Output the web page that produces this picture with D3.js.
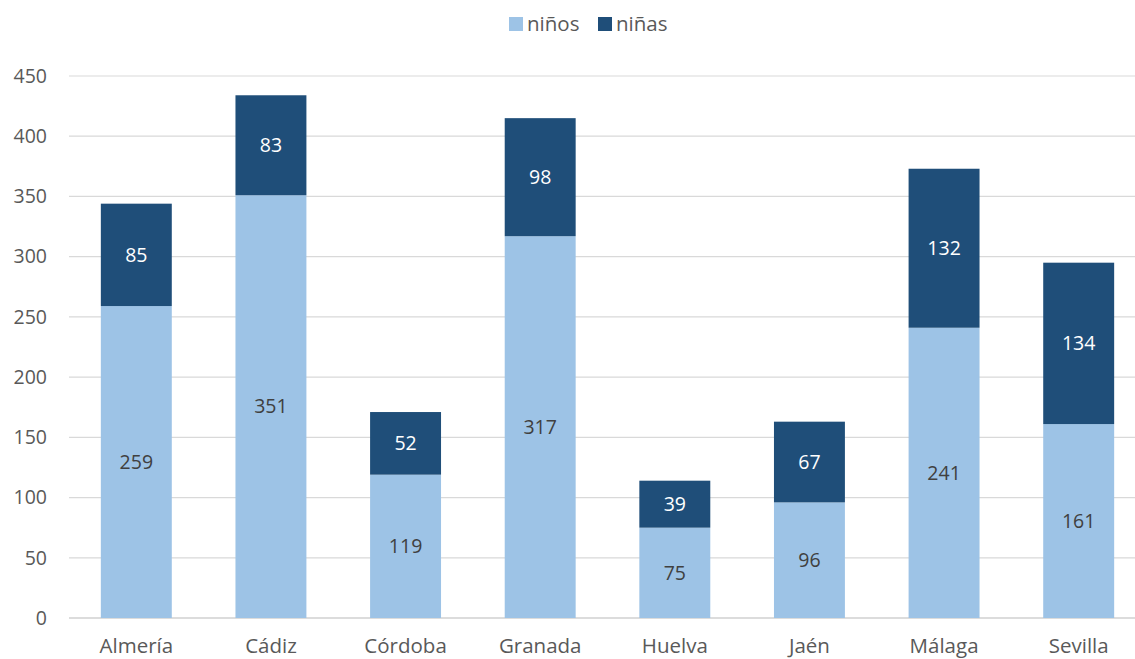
<!DOCTYPE html>
<html><head><meta charset="utf-8">
<script src="https://cdn.jsdelivr.net/npm/d3@7"></script>
<style>body{margin:0;background:#fff}svg{display:block}text{font-family:"Open Sans","Noto Sans",sans-serif}</style>
</head><body><svg id="c" width="1135" height="659"></svg>
<script>
const categories=["Almería","Cádiz","Córdoba","Granada","Huelva","Jaén","Málaga","Sevilla"];
const ninos=[259,351,119,317,75,96,241,161];
const ninas=[85,83,52,98,39,67,132,134];
const seriesNames=["niños","niñas"];
const yTicks=[0,50,100,150,200,250,300,350,400,450];
const colors=["#9DC3E6","#1F4E79"];
const labelColors=["#404040","#ffffff"];

const svg=d3.select("#c");
const x=d3.scaleBand().domain(categories).range([69,1146]).paddingInner(0.473).paddingOuter(0.2365);
const y=d3.scaleLinear().domain([0,450]).range([618,76]);

const grid=svg.append("g");
grid.selectAll("line").data(yTicks).join("line")
 .attr("x1",69).attr("x2",1135).attr("y1",d=>y(d)).attr("y2",d=>y(d))
 .attr("stroke",d=>d===0?"#d0d0d0":"#d9d9d9").attr("stroke-width",d=>d===0?1.5:1.2);

const yAxis=svg.append("g").attr("transform","translate(47,0)")
 .call(d3.axisLeft(y).tickValues(yTicks).tickSize(0).tickPadding(0));
yAxis.select(".domain").remove();
yAxis.selectAll("text").attr("font-size",19.5).attr("fill","#595959").attr("font-family","'Open Sans',sans-serif");

const xAxis=svg.append("g").attr("transform","translate(0,618)")
 .call(d3.axisBottom(x).tickSize(0).tickPadding(20));
xAxis.select(".domain").remove();
xAxis.selectAll("text").attr("font-size",20.5).attr("fill","#595959").attr("font-family","'Open Sans',sans-serif");

const data=categories.map((c,i)=>({cat:c,"niños":ninos[i],"niñas":ninas[i]}));
const stack=d3.stack().keys(seriesNames)(data);
stack.forEach((s,si)=>{
 const g=svg.append("g");
 g.selectAll("rect").data(s).join("rect")
  .attr("x",d=>x(d.data.cat)).attr("width",x.bandwidth())
  .attr("y",d=>y(d[1])).attr("height",d=>y(d[0])-y(d[1]))
  .attr("fill",colors[si]);
 g.selectAll("text").data(s).join("text")
  .attr("x",d=>x(d.data.cat)+x.bandwidth()/2)
  .attr("y",d=>(y(d[0])+y(d[1]))/2).attr("dy","0.35em")
  .attr("text-anchor","middle").attr("font-size",19.5).attr("fill",labelColors[si])
  .text(d=>d[1]-d[0]);
});

const legend=svg.append("g");
const lx=[509,598];
seriesNames.forEach((n,i)=>{
 legend.append("rect").attr("x",lx[i]).attr("y",17).attr("width",14).attr("height",14).attr("fill",colors[i]);
 legend.append("text").attr("x",lx[i]+18).attr("y",24).attr("dy","0.35em").attr("font-size",20.5).attr("fill","#595959").text(n);
});
</script></body></html>
